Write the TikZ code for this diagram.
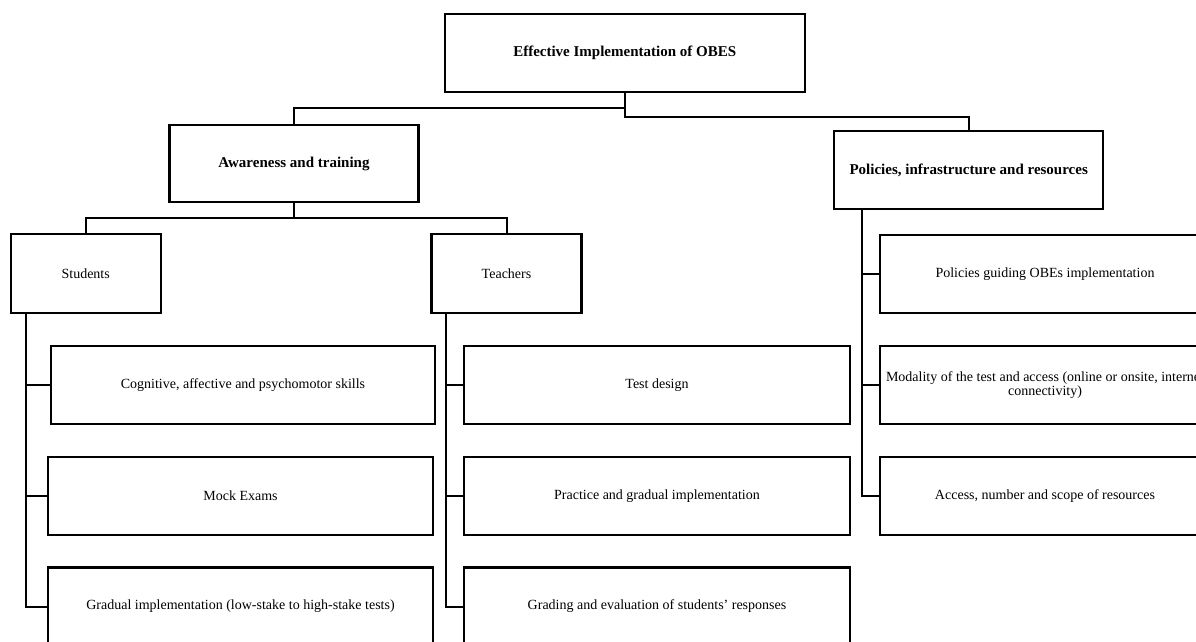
\documentclass[tikz,border=0pt]{standalone}
\usepackage{fontspec}
\setmainfont{Liberation Serif}
\begin{document}
\begin{tikzpicture}[x=1pt,y=-1pt,
  box/.style={draw=black,line width=2.3pt,rectangle,inner sep=2pt,align=center,
    font=\fontsize{14}{14.5}\selectfont},
  hbox/.style={box,font=\fontsize{15}{16}\selectfont\bfseries},
  conn/.style={draw=black,line width=2pt}]
\useasboundingbox (0,0) rectangle (1196,641);
\clip (0,0) rectangle (1196,641);
% level 0
\node[hbox,minimum width=360pt,minimum height=78pt] (top) at (624.7,53) {Effective Implementation of OBES};
% level 1
\node[hbox,minimum width=249pt,minimum height=77pt] (aware) at (294,163.5) {Awareness and training};
\node[hbox,minimum width=269pt,minimum height=78pt] (pol) at (968.7,170) {Policies, infrastructure and resources};
% level 2
\node[box,minimum width=150pt,minimum height=79pt] (stud) at (85.7,273.5) {Students};
\node[box,minimum width=150pt,minimum height=79pt] (teach) at (506.5,273.5) {Teachers};
% students items
\node[box,minimum width=384pt,minimum height=78pt] (cog) at (243,385) {Cognitive, affective and psychomotor skills};
\node[box,minimum width=385pt,minimum height=78pt] (mock) at (240.5,496) {Mock Exams};
\node[box,minimum width=385pt,minimum height=78pt] (grad) at (240.5,606.5) {Gradual implementation (low-stake to high-stake tests)};
% teachers items
\node[box,minimum width=386pt,minimum height=78pt] (test) at (657,385) {Test design};
\node[box,minimum width=386pt,minimum height=78pt] (prac) at (657,496) {Practice and gradual implementation};
\node[box,minimum width=386pt,minimum height=78pt] (grade) at (657,606.5) {Grading and evaluation of students’ responses};
% policies items
\node[box,minimum width=330pt,minimum height=78pt] (pg) at (1045,274) {Policies guiding OBEs implementation};
\node[box,minimum width=330pt,minimum height=78pt] (moda) at (1045,385) {Modality of the test and access (online or onsite, internet\\connectivity)};
\node[box,minimum width=330pt,minimum height=78pt] (acc) at (1045,496) {Access, number and scope of resources};
% junctions
\coordinate (j1) at (624.7,108);
\coordinate (j2) at (294,218);
\coordinate (st) at (26,313);
\coordinate (tt) at (445.8,313);
\coordinate (pt) at (862.2,209);
% connectors
\draw[conn] (top.south) -- ++(0,24) -| (pol.north);
\draw[conn] (j1) -| (aware.north);
\draw[conn] (aware.south) -- (j2);
\draw[conn] (stud.north) |- (j2) -| (teach.north);
\draw[conn] (st) |- (grad.west);
\draw[conn] (cog.west) -- (cog.west -| st);
\draw[conn] (mock.west) -- (mock.west -| st);
\draw[conn] (tt) |- (grade.west);
\draw[conn] (test.west) -- (test.west -| tt);
\draw[conn] (prac.west) -- (prac.west -| tt);
\draw[conn] (pt) |- (acc.west);
\draw[conn] (pg.west) -- (pg.west -| pt);
\draw[conn] (moda.west) -- (moda.west -| pt);
\end{tikzpicture}
\end{document}
